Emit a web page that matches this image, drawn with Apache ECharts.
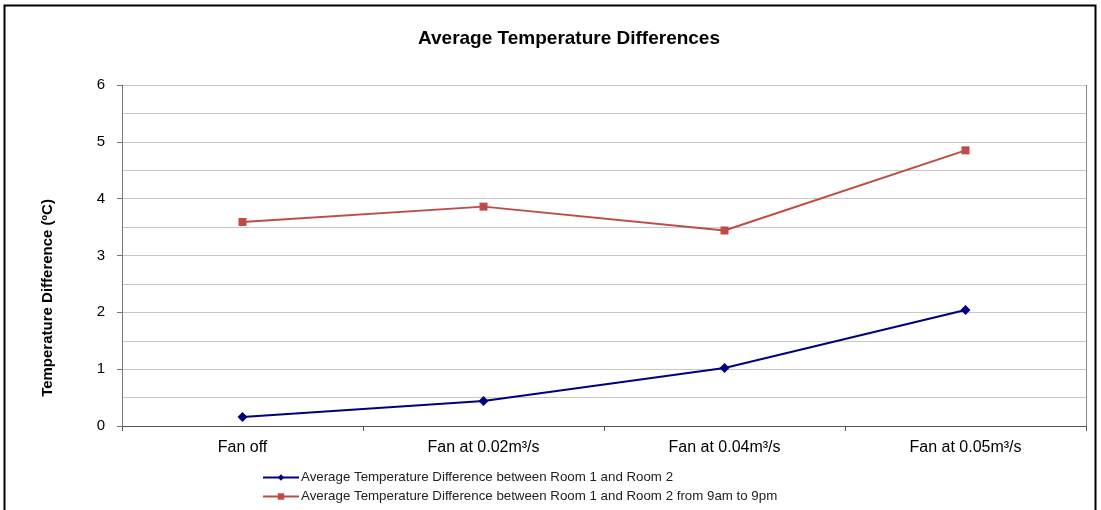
<!DOCTYPE html>
<html>
<head>
<meta charset="utf-8">
<script src="https://cdn.jsdelivr.net/npm/echarts@6/dist/echarts.min.js"></script>
<style>
  html, body { margin: 0; padding: 0; background: #fff; }
  #chart { width: 1101px; height: 510px; }
</style>
</head>
<body>
<div id="chart"></div>
<script>
// data
const categories = ["Fan off", "Fan at 0.02m\u00b3/s", "Fan at 0.04m\u00b3/s", "Fan at 0.05m\u00b3/s"];
const allDay = [0.16, 0.44, 1.02, 2.04];
const dayTime = [3.59, 3.86, 3.44, 4.85];
const seriesNames = [
  "Average Temperature Difference between Room 1 and Room 2",
  "Average Temperature Difference between Room 1 and Room 2 from 9am to 9pm"
];

const font = "Liberation Sans, Arial, sans-serif";
const chart = echarts.init(document.getElementById("chart"));

chart.setOption({
  animation: false,
  backgroundColor: "#fff",
  title: {
    text: "Average Temperature Differences",
    left: 564, top: 24, textAlign: "center",
    textStyle: { fontFamily: font, fontSize: 19, fontWeight: "bold", color: "#000" }
  },
  graphic: [
    // outer frame
    { type: "rect", shape: { x: 4.5, y: 5.5, width: 1091, height: 520 },
      style: { fill: null, stroke: "#000", lineWidth: 2 }, silent: true },
    // y axis title
    { type: "text", x: 48, y: 298, rotation: Math.PI / 2,
      style: { text: "Temperature Difference (\u00baC)", fontFamily: font, fontSize: 15,
               fontWeight: "bold", fill: "#000", align: "center", verticalAlign: "middle" } },
    // right edge of plot area
    { type: "line", shape: { x1: 1086.5, y1: 85, x2: 1086.5, y2: 426 },
      style: { stroke: "#888", lineWidth: 1 }, silent: true }
  ],
  grid: { left: 122, right: 15, top: 85, bottom: 84 },
  legend: {
    orient: "vertical", left: 257, top: 466, itemGap: 6, itemWidth: 36, itemHeight: 8,
    textStyle: { fontFamily: font, fontSize: 13.3, color: "#222", padding: [0, 0, 0, -3] },
    data: seriesNames
  },
  xAxis: {
    type: "category", data: categories, boundaryGap: true,
    axisLine: { lineStyle: { color: "#555" } },
    axisTick: { show: true, length: 5, lineStyle: { color: "#555" } },
    axisLabel: { margin: 14, fontFamily: font, fontSize: 16, color: "#000" },
    splitLine: { show: false }
  },
  yAxis: {
    type: "value", min: 0, max: 6, interval: 1,
    axisLine: { show: true, lineStyle: { color: "#777" } },
    axisTick: { show: true, length: 5, lineStyle: { color: "#777" } },
    axisLabel: { margin: 17, fontFamily: font, fontSize: 15, color: "#000" },
    splitLine: { lineStyle: { color: "#c8c8c8" } },
    minorTick: { show: false, splitNumber: 2 },
    minorSplitLine: { show: true, lineStyle: { color: "#c8c8c8" } }
  },
  series: [
    {
      name: seriesNames[0], type: "line", data: allDay,
      symbol: "diamond", symbolSize: 10,
      lineStyle: { color: "#000080", width: 2 },
      itemStyle: { color: "#000080" }
    },
    {
      name: seriesNames[1], type: "line", data: dayTime,
      symbol: "rect", symbolSize: 8,
      lineStyle: { color: "#be4b48", width: 2 },
      itemStyle: { color: "#be4b48" }
    }
  ]
});
</script>
</body>
</html>
